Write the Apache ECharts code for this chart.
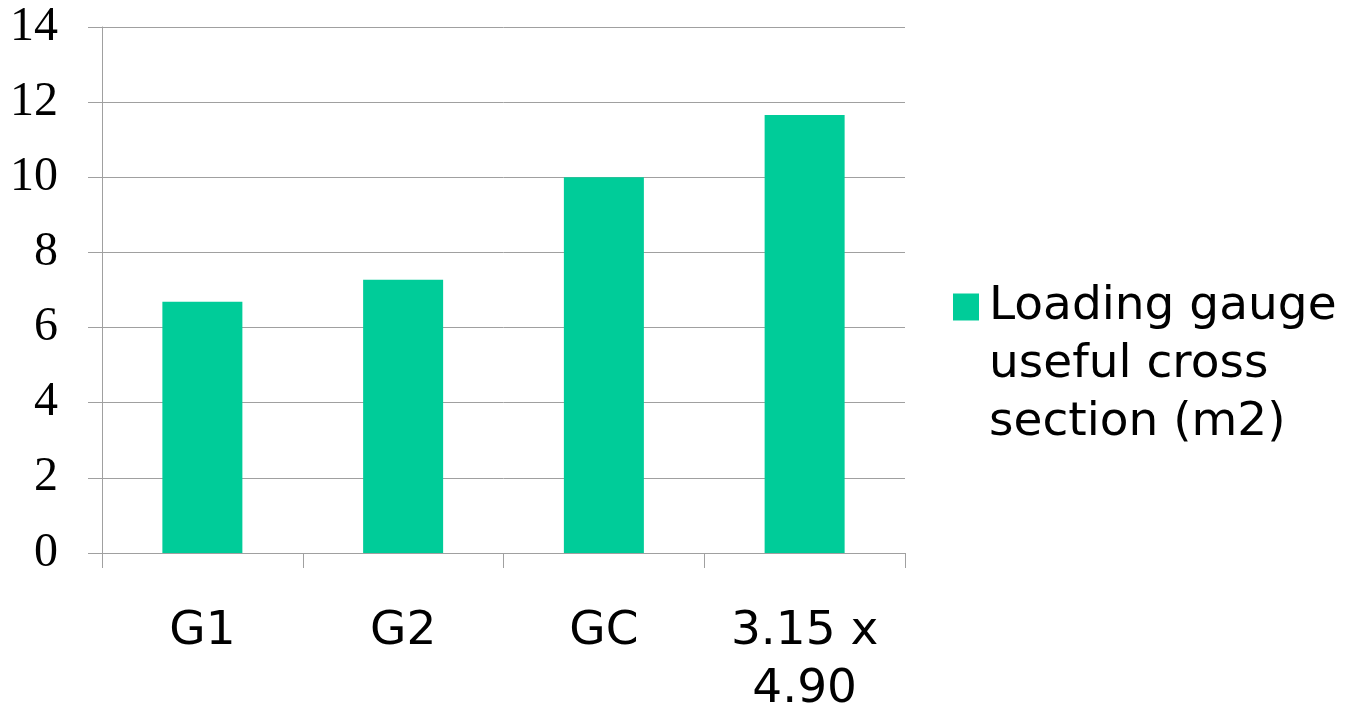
<!DOCTYPE html>
<html>
<head>
<meta charset="utf-8">
<script src="https://cdn.jsdelivr.net/npm/echarts@6/dist/echarts.min.js"></script>
<style>
  html, body { margin: 0; padding: 0; background: #ffffff; }
  #chart { width: 1353px; height: 707px; }
</style>
</head>
<body>
<div id="chart"></div>
<script>
// Loading gauge categories and their useful cross section (m2)
const categories = ['G1', 'G2', 'GC', '3.15 x\n4.90'];
const crossSection = [6.69, 7.27, 10.0, 11.66];
const seriesName = 'Loading gauge\nuseful cross\nsection (m2)';
const yTicks = { min: 0, max: 14, interval: 2 };

const barColor = '#00cc99';
const lineColor = '#a0a0a0';
const sansFont = '"DejaVu Sans", Verdana, sans-serif';
const serifFont = '"Liberation Serif", "Times New Roman", serif';

const chart = echarts.init(document.getElementById('chart'), null, { renderer: 'canvas' });

chart.setOption({
  backgroundColor: '#ffffff',
  animation: false,
  grid: {
    left: 102, right: 448, top: 27, bottom: 154,
    containLabel: false,
    outerBoundsMode: 'none'
  },
  legend: {
    orient: 'vertical',
    left: 953,
    top: 162,
    padding: 0,
    itemWidth: 26,
    itemHeight: 27,
    icon: 'rect',
    selectedMode: false,
    // two blank lines above keep the marker level with the first text line
    formatter: function (name) {
      return '\n\n' + name.split('\n').map(function (s) { return '{t|' + s + '}'; }).join('\n');
    },
    textStyle: {
      fontFamily: sansFont,
      fontSize: 47,
      lineHeight: 58,
      color: '#000000',
      rich: {
        t: {
          fontFamily: sansFont,
          fontSize: 47,
          lineHeight: 58,
          color: '#000000',
          padding: [0, 0, 0, 5]
        }
      }
    },
    data: [seriesName]
  },
  xAxis: {
    type: 'category',
    data: categories,
    boundaryGap: true,
    axisLine: { show: true, lineStyle: { color: lineColor, width: 1 } },
    axisTick: { show: true, length: 15, lineStyle: { color: lineColor } },
    axisLabel: {
      fontFamily: sansFont,
      fontSize: 47,
      lineHeight: 58,
      color: '#000000',
      margin: 50,
      interval: 0
    },
    splitLine: { show: false }
  },
  yAxis: {
    type: 'value',
    min: yTicks.min,
    max: yTicks.max,
    interval: yTicks.interval,
    axisLine: { show: true, lineStyle: { color: lineColor, width: 1 } },
    axisTick: { show: true, length: 14, lineStyle: { color: lineColor } },
    axisLabel: {
      fontFamily: serifFont,
      fontSize: 48,
      color: '#000000',
      margin: 44
    },
    splitLine: { show: true, lineStyle: { color: lineColor, width: 1 } }
  },
  series: [{
    name: seriesName,
    type: 'bar',
    data: crossSection,
    barWidth: 80,
    itemStyle: { color: barColor }
  }]
});
</script>
</body>
</html>
